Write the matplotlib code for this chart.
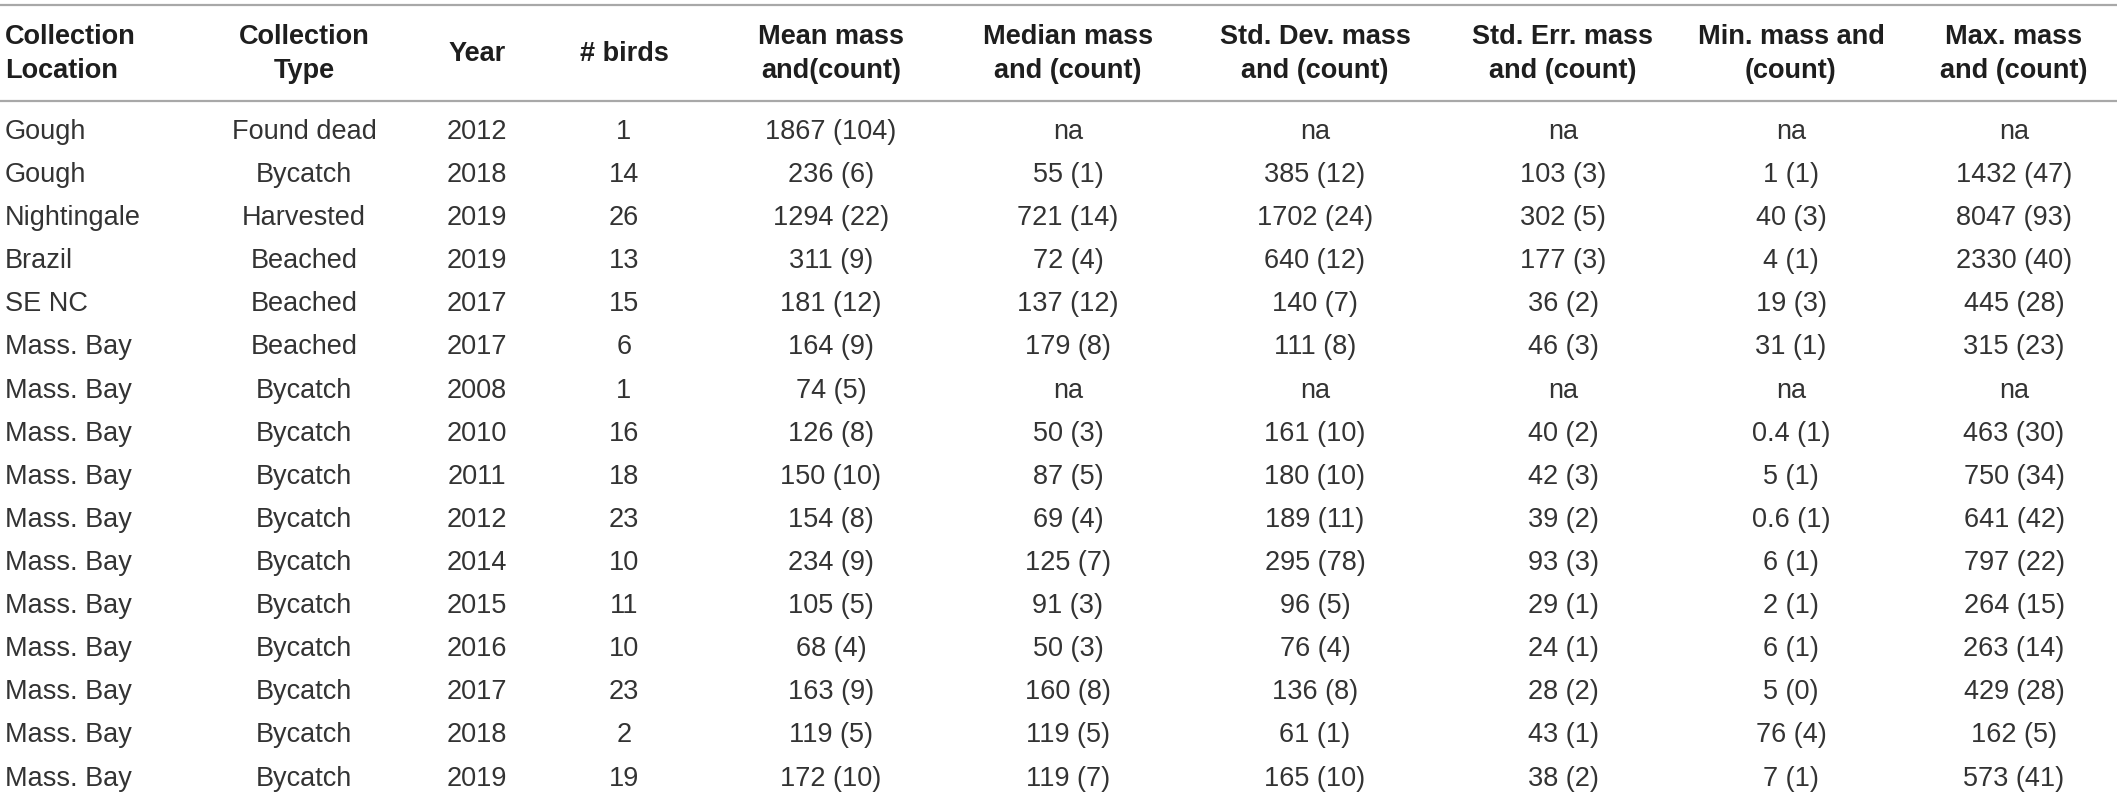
import matplotlib
matplotlib.use("Agg")
from matplotlib import pyplot as plt

# table content
headers = ["Collection\nLocation", "Collection\nType", "Year", "# birds",
           "Mean mass\nand(count)", "Median mass\nand (count)",
           "Std. Dev. mass\nand (count)", "Std. Err. mass\nand (count)",
           "Min. mass and\n(count)", "Max. mass\nand (count)"]

location = ["Gough", "Gough", "Nightingale", "Brazil", "SE NC", "Mass. Bay",
            "Mass. Bay", "Mass. Bay", "Mass. Bay", "Mass. Bay", "Mass. Bay",
            "Mass. Bay", "Mass. Bay", "Mass. Bay", "Mass. Bay", "Mass. Bay"]
ctype = ["Found dead", "Bycatch", "Harvested", "Beached", "Beached", "Beached",
         "Bycatch", "Bycatch", "Bycatch", "Bycatch", "Bycatch", "Bycatch",
         "Bycatch", "Bycatch", "Bycatch", "Bycatch"]
year = [2012, 2018, 2019, 2019, 2017, 2017, 2008, 2010, 2011, 2012, 2014,
        2015, 2016, 2017, 2018, 2019]
n_birds = [1, 14, 26, 13, 15, 6, 1, 16, 18, 23, 10, 11, 10, 23, 2, 19]
mean_mass = ["1867 (104)", "236 (6)", "1294 (22)", "311 (9)", "181 (12)",
             "164 (9)", "74 (5)", "126 (8)", "150 (10)", "154 (8)", "234 (9)",
             "105 (5)", "68 (4)", "163 (9)", "119 (5)", "172 (10)"]
median_mass = ["na", "55 (1)", "721 (14)", "72 (4)", "137 (12)", "179 (8)",
               "na", "50 (3)", "87 (5)", "69 (4)", "125 (7)", "91 (3)",
               "50 (3)", "160 (8)", "119 (5)", "119 (7)"]
sd_mass = ["na", "385 (12)", "1702 (24)", "640 (12)", "140 (7)", "111 (8)",
           "na", "161 (10)", "180 (10)", "189 (11)", "295 (78)", "96 (5)",
           "76 (4)", "136 (8)", "61 (1)", "165 (10)"]
se_mass = ["na", "103 (3)", "302 (5)", "177 (3)", "36 (2)", "46 (3)", "na",
           "40 (2)", "42 (3)", "39 (2)", "93 (3)", "29 (1)", "24 (1)",
           "28 (2)", "43 (1)", "38 (2)"]
min_mass = ["na", "1 (1)", "40 (3)", "4 (1)", "19 (3)", "31 (1)", "na",
            "0.4 (1)", "5 (1)", "0.6 (1)", "6 (1)", "2 (1)", "6 (1)",
            "5 (0)", "76 (4)", "7 (1)"]
max_mass = ["na", "1432 (47)", "8047 (93)", "2330 (40)", "445 (28)",
            "315 (23)", "na", "463 (30)", "750 (34)", "641 (42)", "797 (22)",
            "264 (15)", "263 (14)", "429 (28)", "162 (5)", "573 (41)"]

columns = [location, ctype, year, n_birds, mean_mass, median_mass,
           sd_mass, se_mass, min_mass, max_mass]

W, H = 2117, 801
fig = plt.figure(figsize=(W / 100, H / 100), dpi=100)
ax = fig.add_axes([0, 0, 1, 1])
ax.set_xlim(0, W)
ax.set_ylim(H, 0)
ax.axis("off")

col_x = [5, 304, 477, 624, 831, 1068, 1315, 1563, 1791, 2014]
fs = 19.5
font = "Liberation Sans"
txt_color = "#333333"
line_color = "#a8a8a8"

# rules
ax.axhline(5, color=line_color, lw=1.6)
ax.axhline(101, color=line_color, lw=1.6)

for j, h in enumerate(headers):
    ha = "left" if j == 0 else "center"
    ax.text(col_x[j], 54, h, ha=ha, va="center", fontsize=fs,
            fontweight="bold", family=font, color="#1e1e1e",
            linespacing=1.4, multialignment=ha)

row_y0, row_step = 132, 43.1
for j, col in enumerate(columns):
    ha = "left" if j == 0 else "center"
    for i, val in enumerate(col):
        ax.text(col_x[j], row_y0 + i * row_step, str(val), ha=ha,
                va="center", fontsize=fs, family=font, color=txt_color)

fig.savefig("out.png", dpi=100, facecolor="white")
